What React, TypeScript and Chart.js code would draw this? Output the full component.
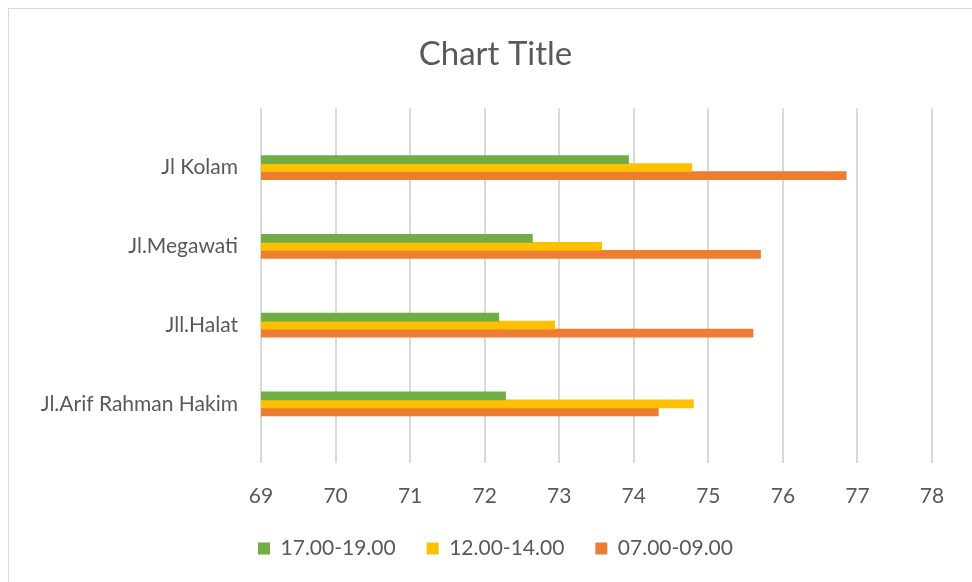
import React, { useEffect, useRef } from "react";
import { Chart, registerables } from "chart.js";

Chart.register(...registerables);

// Categories from bottom (index 0) to top (index 3)
const categories = ["Jl.Arif Rahman Hakim", "Jll.Halat", "Jl.Megawati", "Jl Kolam"];
const seriesNames = ["17.00-19.00", "12.00-14.00", "07.00-09.00"];
const evening = [72.28, 72.19, 72.64, 73.93];
const midday = [74.8, 72.94, 73.57, 74.78];
const morning = [74.33, 75.6, 75.7, 76.85];
const seriesColors = ["#70AD47", "#FFC000", "#ED7D31"];
const xTicks = [69, 70, 71, 72, 73, 74, 75, 76, 77, 78];

const FONT = "Lato, 'Open Sans', sans-serif";
const TEXT = "#595959";

export default function App() {
  const ref = useRef<HTMLCanvasElement | null>(null);

  useEffect(() => {
    const canvas = ref.current;
    if (!canvas) return;
    const seriesValues = [evening, midday, morning];
    const chart = new Chart(canvas, {
      type: "bar",
      data: {
        datasets: seriesValues.map((vals, s) => ({
          label: seriesNames[s],
          data: vals.map((v, i) => ({ x: v, y: i })),
          backgroundColor: seriesColors[s],
          borderWidth: 0,
          barThickness: 8,
          yAxisID: "y",
        })),
      },
      options: {
        indexAxis: "y",
        responsive: false,
        animation: false,
        layout: { padding: { left: 10, right: 0, top: 0, bottom: 0 } },
        plugins: {
          title: {
            display: true,
            text: "Chart Title",
            color: TEXT,
            font: { family: FONT, size: 33, weight: "normal" },
            padding: { top: 26, bottom: 34 },
          },
          legend: {
            display: true,
            position: "bottom",
            labels: {
              boxWidth: 12,
              boxHeight: 12,
              padding: 31,
              color: TEXT,
              font: { family: FONT, size: 21 },
            },
          },
          tooltip: { enabled: false },
        },
        scales: {
          x: {
            type: "linear",
            min: xTicks[0],
            max: xTicks[xTicks.length - 1],
            afterBuildTicks: (scale: any) => {
              scale.ticks = xTicks.map((v) => ({ value: v }));
            },
            afterFit: (scale: any) => {
              scale.height = 44;
            },
            ticks: {
              stepSize: 1,
              padding: 21,
              color: TEXT,
              font: { family: FONT, size: 21 },
            },
            grid: { color: "#d9d9d9", lineWidth: 2, drawTicks: false },
            border: { display: false },
          },
          y: {
            type: "linear",
            position: "left",
            offset: false,
            min: -0.75,
            max: 3.75,
            afterBuildTicks: (scale: any) => {
              scale.ticks = categories.map((_, i) => ({ value: i }));
            },
            afterFit: (scale: any) => {
              scale.width = 242;
            },
            ticks: {
              padding: 23,
              color: TEXT,
              font: { family: FONT, size: 21 },
              callback: (value: any) => categories[value as number] ?? "",
            },
            grid: { display: false, drawTicks: false, offset: false },
            border: { display: false },
          },
          yRight: {
            type: "linear",
            position: "right",
            display: true,
            afterFit: (scale: any) => {
              scale.width = 40;
            },
            ticks: { display: false },
            grid: { display: false, drawTicks: false },
            border: { display: false },
          },
        },
      },
    });
    return () => chart.destroy();
  }, []);

  return (
    <div
      style={{
        position: "fixed",
        left: 8,
        top: 8,
        width: 964,
        height: 574,
        boxSizing: "border-box",
        borderTop: "1px solid #d9d9d9",
        borderLeft: "1px solid #d9d9d9",
        overflow: "hidden",
        background: "#ffffff",
      }}
    >
      <canvas ref={ref} width={963} height={560} style={{ display: "block", width: 963, height: 560 }} />
    </div>
  );
}
